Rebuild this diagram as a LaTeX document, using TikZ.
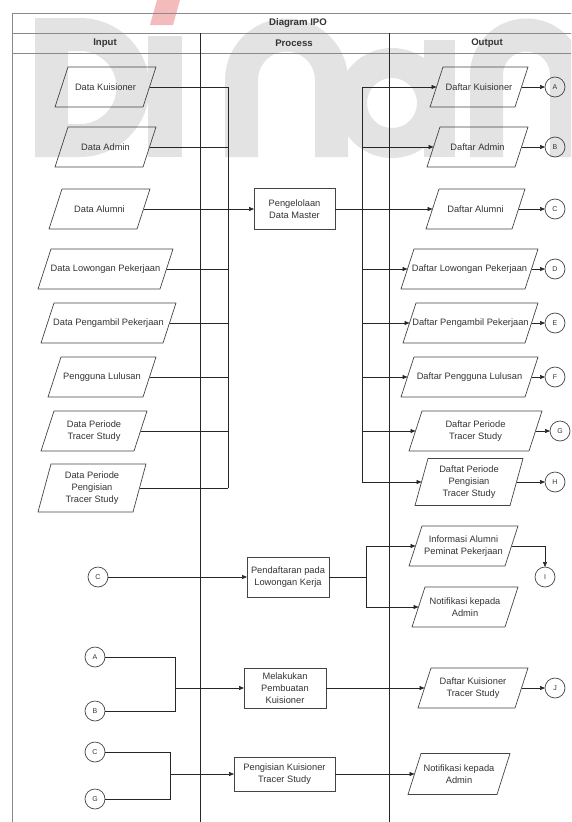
\documentclass[tikz,border=0pt]{standalone}
\usepackage{fontspec}
\setmainfont{Liberation Sans}
\usetikzlibrary{arrows.meta,calc}

\definecolor{wm}{HTML}{E3E3E3}
\definecolor{wmred}{HTML}{F3BBBB}
\definecolor{ink}{HTML}{333333}
\definecolor{edge}{HTML}{444444}
\definecolor{framec}{HTML}{8A8A8A}

\newcommand{\txtfont}{\fontsize{9.3}{12}\selectfont}
\newcommand{\hdrfont}{\fontsize{9.6}{12}\selectfont\bfseries}
\newcommand{\conafont}{\fontsize{7}{8}\selectfont}

\tikzset{
  iotext/.style={rectangle, inner sep=1pt, outer sep=0pt, align=center, font=\txtfont, text=ink},
  shapeline/.style={draw=edge, line width=0.7pt, line join=miter},
  procbox/.style args={#1/#2}{rectangle, shapeline, minimum width=#1,
    minimum height=#2, inner sep=1pt, outer sep=0pt, align=center, font=\txtfont, text=ink},
  conn/.style={circle, shapeline, minimum size=20pt, inner sep=0pt,
    outer sep=0pt, font=\conafont, text=ink},
  hdr/.style={font=\hdrfont, text=ink, inner sep=0pt},
  ln/.style={draw=black!85, line width=0.6pt},
  arr/.style={ln, -{Triangle[length=5pt,width=4pt]}},
}

% data parallelogram: name, x, y, width at mid height, height, text
% the slanted sides pass through the node's west and east anchors
\newcommand{\databox}[6]{%
  \node[iotext, minimum width=#4, minimum height=#5] (#1) at (#2,#3) {#6};
  \draw[shapeline] ($(#1.south west)+(-6.5,0)$) -- ($(#1.south east)+(-6.5,0)$)
    -- ($(#1.north east)+(6.5,0)$) -- ($(#1.north west)+(6.5,0)$) -- cycle;
}

\begin{document}
\begin{tikzpicture}[x=1pt,y=-1pt]
\useasboundingbox (0,0) rectangle (571,822);
\clip (0,0) rectangle (571,822);

% faint logo lettering in the background
\begin{scope}
  \fill[wm, even odd rule] (35,18) -- (80,18) arc[start angle=90,end angle=-90,radius=69.5pt] -- (35,157) -- cycle
    (68,51) -- (80,51) arc[start angle=90,end angle=-90,radius=36.5pt] -- (68,124) -- cycle;
  \fill[wm] (148,36) rectangle (182,157);
  \fill[wmred] (150,25) -- (157,0) -- (180,0) -- (173,25) -- cycle;
  \draw[wm, line width=33pt] (241.5,157) -- (241.5,80) arc[start angle=180,end angle=0,radius=45pt] -- (331.5,157);
  \draw[wm, line width=30pt] (392,103) circle[radius=40pt];
  \fill[wm] (424,40) rectangle (455,157);
  \draw[wm, line width=33pt] (486.5,157) -- (486.5,75) arc[start angle=180,end angle=0,radius=40pt] -- (566.5,157);
\end{scope}

% swimlane frame
\draw[framec, line width=0.8pt] (12,822) -- (12,13) -- (590,13);
\draw[framec, line width=0.8pt] (12,33) -- (590,33);
\draw[framec, line width=0.8pt] (12,53) -- (590,53);
\draw[black!85, line width=0.8pt] (200,33) -- (200,822);
\draw[black!85, line width=0.8pt] (389,33) -- (389,822);

\node[hdr] (title) at (298,23) {Diagram IPO};
\node[hdr] (hin) at (105,43) {Input};
\node[hdr] (hproc) at (294,43) {Process};
\node[hdr] (hout) at (487,43) {Output};

% inputs
\databox{dk}{105.5}{87}{88}{40}{Data Kuisioner}
\databox{da}{105.5}{147}{88}{40}{Data Admin}
\databox{dal}{99.5}{209}{88}{40}{Data Alumni}
\databox{dlp}{105.5}{269}{122}{40}{Data Lowongan Pekerjaan}
\databox{dpp}{108.5}{323}{122}{40}{Data Pengambil Pekerjaan}
\databox{pl}{102}{377}{95}{40}{Pengguna Lulusan}
\databox{dpts}{94}{431}{93}{40}{Data Periode\\Tracer Study}
\databox{dppts}{92}{488}{95}{48}{Data Periode\\Pengisian\\Tracer Study}

% master data process
\node[procbox=81/41] (pm) at (294.5,209) {Pengelolaan\\Data Master};

% outputs of master data
\databox{ok}{479}{87}{85}{40}{Daftar Kuisioner}
\databox{oa}{477.5}{147}{88}{40}{Daftar Admin}
\databox{oal}{475.5}{209}{86}{40}{Daftar Alumni}
\databox{olp}{469.5}{269}{124}{40}{Daftar Lowongan Pekerjaan}
\databox{opp}{470.5}{323}{122}{40}{Daftar Pengambil Pekerjaan}
\databox{opl}{469.5}{377}{124}{40}{Daftar Pengguna Lulusan}
\databox{opts}{475.5}{431}{120}{40}{Daftar Periode\\Tracer Study}
\databox{oppts}{469}{482}{95}{47}{Daftat Periode\\Pengisian\\Tracer Study}

\node[conn] (ca) at (555,87) {A};
\node[conn] (cb) at (555,147) {B};
\node[conn] (cc) at (555,209) {C};
\node[conn] (cd) at (555,269) {D};
\node[conn] (ce) at (555,323) {E};
\node[conn] (cf) at (555,377) {F};
\node[conn] (cg) at (560,431) {G};
\node[conn] (ch) at (555,482) {H};

% input collector and output distributor
\coordinate (inbus) at (228,488);
\coordinate (outtop) at (362,87);
\coordinate (outbot) at (362,482);

\foreach \n in {dk,da,dlp,dpp,pl,dpts,dppts}
  \draw[ln] (\n.east) -- (\n.east -| inbus);
\draw[ln] (dk.east -| inbus) -- (inbus);
\draw[arr] (dal.east) -- (pm.west);

\draw[ln] (outtop) -- (outbot);
\draw[arr] (pm.east) -- (oal.west);
\foreach \n in {ok,oa,olp,opp,opl,opts,oppts}
  \draw[arr] (\n.west -| outtop) -- (\n.west);

\draw[arr] (ok.east) -- (ca.west);
\draw[arr] (oa.east) -- (cb.west);
\draw[arr] (oal.east) -- (cc.west);
\draw[arr] (olp.east) -- (cd.west);
\draw[arr] (opp.east) -- (ce.west);
\draw[arr] (opl.east) -- (cf.west);
\draw[arr] (opts.east) -- (cg.west);
\draw[arr] (oppts.east) -- (ch.west);

% job application
\node[conn] (lc1) at (98,577) {C};
\node[procbox=82/40] (pdl) at (288,577) {Pendaftaran pada\\Lowongan Kerja};
\databox{oia}{463.5}{546}{96}{40}{Informasi Alumni\\Peminat Pekerjaan}
\databox{on1}{465}{607}{93}{40}{Notifikasi kepada\\Admin}
\node[conn] (ci) at (545,577) {I};
\coordinate (fork1) at (366,577);

\draw[arr] (lc1.east) -- (pdl.west);
\draw[ln] (pdl.east) -- (fork1);
\draw[arr] (fork1) |- (oia.west);
\draw[arr] (fork1) |- (on1.west);
\draw[arr] (oia.east) -| (ci.north);

% questionnaire creation
\node[conn] (la) at (95,657) {A};
\node[conn] (lb) at (95,711) {B};
\node[procbox=82/40] (mpk) at (285,688) {Melakukan\\Pembuatan\\Kuisioner};
\databox{odk}{473}{688}{97}{40}{Daftar Kuisioner\\Tracer Study}
\node[conn] (cj) at (555,688) {J};
\coordinate (join1) at (175,688);

\draw[ln] (la.east) -| (join1);
\draw[ln] (lb.east) -| (join1);
\draw[arr] (join1) -- (mpk.west);
\draw[arr] (mpk.east) -- (odk.west);
\draw[arr] (odk.east) -- (cj.west);

% questionnaire filling
\node[conn] (lc2) at (95,752) {C};
\node[conn] (lg) at (95,799) {G};
\node[procbox=101/34] (pkt) at (284.5,774) {Pengisian Kuisioner\\Tracer Study};
\databox{on2}{459}{774}{89}{41}{Notifikasi kepada\\Admin}
\coordinate (join2) at (170,774);

\draw[ln] (lc2.east) -| (join2);
\draw[ln] (lg.east) -| (join2);
\draw[arr] (join2) -- (pkt.west);
\draw[arr] (pkt.east) -- (on2.west);
\end{tikzpicture}
\end{document}
